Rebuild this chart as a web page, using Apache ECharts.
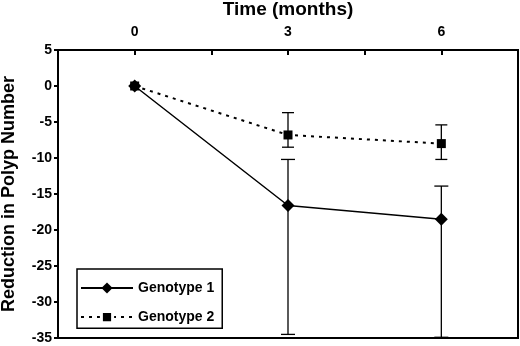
<!DOCTYPE html>
<html><head><meta charset="utf-8">
<script src="https://cdn.jsdelivr.net/npm/echarts@6/dist/echarts.min.js"></script>
<style>html,body{margin:0;padding:0;background:#fff}#c{width:520px;height:346px}</style>
</head><body><div id="c"></div>
<script>
const months = [0, 3, 6];
const geno1Mean = [0, -16.6, -18.5];
const geno1Low = [0, -34.5, -34.9];
const geno1High = [0, -10.2, -13.9];
const geno2Mean = [0, -6.8, -8.0];
const geno2Low = [0, -8.5, -10.2];
const geno2High = [0, -3.7, -5.4];
const xTickLabels = ['0', '3', '6'];
const yTicks = [5, 0, -5, -10, -15, -20, -25, -30, -35];

const FONT = '"Liberation Sans", Arial, sans-serif';
const chart = echarts.init(document.getElementById('c'), null, {renderer: 'canvas'});

function errSeries(name, low, high, capHalf) {
  return {
    type: 'custom', name: name + ' err', silent: true, z: 1,
    data: months.map((m, i) => [m, low[i], high[i]]).filter(d => d[1] !== d[2]),
    renderItem: function (params, api) {
      const x = api.value(0);
      const p1 = api.coord([x, api.value(1)]);
      const p2 = api.coord([x, api.value(2)]);
      const st = {stroke: '#000', lineWidth: 1.3};
      return {type: 'group', children: [
        {type: 'line', shape: {x1: p1[0], y1: p1[1], x2: p2[0], y2: p2[1]}, style: st},
        {type: 'line', shape: {x1: p1[0] - capHalf, y1: p1[1], x2: p1[0] + capHalf, y2: p1[1]}, style: st},
        {type: 'line', shape: {x1: p2[0] - capHalf, y1: p2[1], x2: p2[0] + capHalf, y2: p2[1]}, style: st}
      ]};
    }
  };
}

chart.setOption({
  animation: false,
  grid: {left: 58, top: 50, right: 2, bottom: 8, show: true, borderColor: '#000', borderWidth: 2,
         containLabel: false, outerBoundsMode: 'none'},
  xAxis: {
    type: 'value', position: 'top', min: -1.5, max: 7.5, interval: 1.5,
    name: 'Time (months)', nameLocation: 'middle', nameGap: 31,
    nameTextStyle: {fontFamily: FONT, fontWeight: 'bold', fontSize: 19, color: '#000'},
    axisLine: {onZero: false, lineStyle: {color: '#000', width: 2}},
    axisTick: {inside: true, length: 5, lineStyle: {color: '#000', width: 2}},
    axisLabel: {margin: 11, fontFamily: FONT, fontWeight: 'bold', fontSize: 14, color: '#000',
      formatter: v => xTickLabels.indexOf(String(v)) >= 0 ? String(v) : ''},
    splitLine: {show: false}
  },
  yAxis: {
    type: 'value', min: -35, max: 5, interval: 5,
    name: 'Reduction in Polyp Number', nameLocation: 'middle', nameGap: 40, nameRotate: 90,
    nameTextStyle: {fontFamily: FONT, fontWeight: 'bold', fontSize: 18, color: '#000'},
    axisLine: {onZero: false, lineStyle: {color: '#000', width: 2}},
    axisTick: {length: 4, lineStyle: {color: '#000', width: 2}},
    axisLabel: {margin: 6, fontFamily: FONT, fontWeight: 'bold', fontSize: 14, color: '#000',
      formatter: v => yTicks.indexOf(v) >= 0 ? String(v) : ''},
    splitLine: {show: false}
  },
  legend: {
    orient: 'vertical', left: 77, top: 269,
    borderColor: '#000', borderWidth: 1.5, padding: [12, 8, 4, 3],
    itemGap: 15, itemWidth: 52, itemHeight: 14,
    textStyle: {fontFamily: FONT, fontWeight: 'bold', fontSize: 14, color: '#000'},
    data: [{name: 'Genotype 1'}, {name: 'Genotype 2', itemStyle: {borderColor: '#fff', borderWidth: 3}}]
  },
  series: [
    errSeries('Genotype 1', geno1Low, geno1High, 7),
    errSeries('Genotype 2', geno2Low, geno2High, 6),
    {
      name: 'Genotype 1', type: 'line', z: 3,
      data: months.map((m, i) => [m, geno1Mean[i]]),
      symbol: 'diamond', symbolSize: 13,
      lineStyle: {color: '#000', width: 1.5},
      itemStyle: {color: '#000'}
    },
    {
      name: 'Genotype 2', type: 'line', z: 3,
      data: months.map((m, i) => [m, geno2Mean[i]]),
      symbol: 'rect', symbolSize: 9,
      lineStyle: {color: '#000', width: 2, type: [3, 5]},
      itemStyle: {color: '#000'}
    }
  ]
});
</script>
</body></html>
